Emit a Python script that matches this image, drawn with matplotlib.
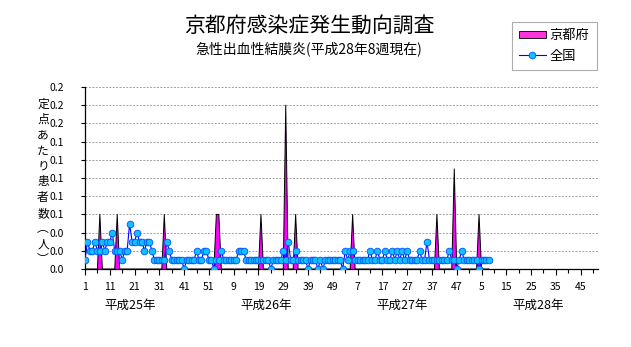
import numpy as np
import matplotlib
matplotlib.use("Agg")
import matplotlib.pyplot as plt
from matplotlib.patches import Patch
from matplotlib.lines import Line2D
from matplotlib.ticker import FormatStrFormatter, FixedLocator, MultipleLocator

plt.rcParams['font.family'] = ['Noto Sans CJK JP', 'DejaVu Sans']

# weekly values, H25 (2013) week 1 .. H28 (2016) week 8
years = ['平成25年', '平成26年', '平成27年', '平成28年']
weeks_per_year = 52

kyoto_h25 = [0, 0, 0, 0, 0, 0, 0.06, 0, 0, 0,
             0, 0, 0, 0.06, 0, 0, 0, 0, 0, 0,
             0, 0, 0, 0, 0, 0, 0, 0, 0, 0,
             0, 0, 0.06, 0, 0, 0, 0, 0, 0, 0,
             0, 0, 0, 0, 0, 0, 0, 0, 0, 0,
             0, 0]
kyoto_h26 = [0, 0.06, 0.06, 0, 0, 0, 0, 0, 0, 0,
             0, 0, 0, 0, 0, 0, 0, 0, 0, 0.06,
             0, 0, 0, 0, 0, 0, 0, 0, 0, 0.18,
             0, 0, 0, 0.06, 0, 0, 0, 0, 0, 0,
             0, 0, 0, 0, 0, 0, 0, 0, 0, 0,
             0, 0]
kyoto_h27 = [0, 0, 0, 0, 0.06, 0, 0, 0, 0, 0,
             0, 0, 0, 0, 0, 0, 0, 0, 0, 0,
             0, 0, 0, 0, 0, 0, 0, 0, 0, 0,
             0, 0, 0, 0, 0, 0, 0, 0, 0.06, 0,
             0, 0, 0, 0, 0, 0.11, 0, 0, 0, 0,
             0, 0]
kyoto_h28 = [0, 0, 0, 0.06, 0, 0, 0, 0]

nat_h25 = [0.01, 0.03, 0.02, 0.02, 0.03, 0.02, 0.02, 0.03, 0.02, 0.03,
           0.03, 0.04, 0.02, 0.02, 0.02, 0.01, 0.02, 0.02, 0.05, 0.03,
           0.03, 0.04, 0.03, 0.03, 0.02, 0.03, 0.03, 0.02, 0.01, 0.01,
           0.01, 0.01, 0.01, 0.03, 0.02, 0.01, 0.01, 0.01, 0.01, 0.01,
           0.00, 0.01, 0.01, 0.01, 0.01, 0.02, 0.01, 0.01, 0.02, 0.02,
           0.01, 0.01]
nat_h26 = [0.00, 0.01, 0.01, 0.02, 0.01, 0.01, 0.01, 0.01, 0.01, 0.01,
           0.02, 0.02, 0.02, 0.01, 0.01, 0.01, 0.01, 0.01, 0.01, 0.01,
           0.01, 0.01, 0.01, 0.00, 0.01, 0.01, 0.01, 0.01, 0.02, 0.01,
           0.03, 0.01, 0.01, 0.02, 0.01, 0.01, 0.01, 0.01, 0.00, 0.01,
           0.01, 0.01, 0.00, 0.01, 0.00, 0.01, 0.01, 0.01, 0.01, 0.01,
           0.01, 0.01]
nat_h27 = [0.00, 0.02, 0.01, 0.02, 0.02, 0.01, 0.01, 0.01, 0.01, 0.01,
           0.01, 0.02, 0.01, 0.01, 0.02, 0.01, 0.01, 0.02, 0.01, 0.01,
           0.02, 0.01, 0.02, 0.01, 0.02, 0.01, 0.02, 0.01, 0.01, 0.01,
           0.01, 0.02, 0.01, 0.01, 0.03, 0.01, 0.01, 0.01, 0.01, 0.01,
           0.01, 0.01, 0.01, 0.02, 0.01, 0.01, 0.00, 0.01, 0.02, 0.01,
           0.01, 0.01]
nat_h28 = [0.01, 0.01, 0.01, 0.00, 0.01, 0.01, 0.01, 0.01]

kyoto = np.array(kyoto_h25 + kyoto_h26 + kyoto_h27 + kyoto_h28)
nation = np.array(nat_h25 + nat_h26 + nat_h27 + nat_h28)

week_no = np.tile(np.arange(1, weeks_per_year + 1), len(years))
n_all = len(week_no)
x = np.arange(len(kyoto))

fig = plt.figure(figsize=(6.31, 3.47), dpi=100)
ax = fig.add_axes([85 / 631, 1 - 269 / 347, (598 - 85) / 631, (269 - 87) / 347])

ax.fill_between(x, 0, kyoto, facecolor='#ff00ff', edgecolor='none', zorder=2)
ax.plot(x, kyoto, color='black', lw=0.7, zorder=2)
ax.plot(x, nation, color='#0000ff', lw=0.8, marker='o', ms=4.8,
        mfc='#10c0ff', mec='#0050ff', mew=0.6, zorder=3)

ax.set_xlim(0, n_all - 1)
ax.set_ylim(0, 0.2)

ax.yaxis.set_major_locator(MultipleLocator(0.02))
ax.yaxis.set_major_formatter(FormatStrFormatter('%.1f'))
ax.grid(axis='y', color='#a0a0a0', ls=(0, (2, 1.5)), lw=0.7)
ax.set_axisbelow(True)

lab_pos = np.arange(0, n_all, 10)
ax.xaxis.set_major_locator(FixedLocator(lab_pos))
ax.set_xticklabels([str(week_no[i]) for i in lab_pos])
ax.xaxis.set_minor_locator(MultipleLocator(5))

for s in ['top', 'right']:
    ax.spines[s].set_visible(False)
ax.spines['left'].set_linewidth(0.9)
ax.spines['bottom'].set_linewidth(0.9)
ax.tick_params(axis='y', length=3, width=0.8, pad=12, labelsize=7.5)
ax.tick_params(axis='x', which='major', length=4, width=0.8, pad=5, labelsize=7.5)
ax.tick_params(axis='x', which='minor', length=3, width=0.8)

# year labels under the week numbers
year_pos = [18, 73, 128, 183]
for yp, name in zip(year_pos, years):
    ax.text(yp, -0.040, name, ha='center', va='center', fontsize=9,
            transform=ax.transData, clip_on=False)

# vertical y-axis title, one character per line
ylabel = '定点あたり患者数︵人︶'
for k, ch in enumerate(ylabel):
    fig.text(43 / 631, 1 - (104 + k * 15.6) / 347, ch, ha='center',
             va='center', fontsize=8.5)

fig.text(309 / 631, 1 - 26 / 347, '京都府感染症発生動向調査', ha='center',
         va='center', fontsize=15)
fig.text(309 / 631, 1 - 49 / 347, '急性出血性結膜炎(平成28年8週現在)', ha='center',
         va='center', fontsize=10)

handles = [Patch(facecolor='#ff33dd', edgecolor='black', lw=0.6),
           Line2D([], [], color='#0000ff', lw=0.8, marker='o', ms=4.8,
                  mfc='#10c0ff', mec='#0050ff', mew=0.6)]
leg = fig.legend(handles, ['京都府', '全国'], loc='upper left',
                 bbox_to_anchor=(512 / 631, 1 - 22 / 347), fontsize=9.5,
                 frameon=True, fancybox=False, edgecolor='#999999',
                 handlelength=2.0, handleheight=0.5, handletextpad=0.3,
                 borderpad=0.55, labelspacing=0.55, borderaxespad=0)
leg.get_frame().set_linewidth(0.8)

fig.savefig('out.png', dpi=100)
